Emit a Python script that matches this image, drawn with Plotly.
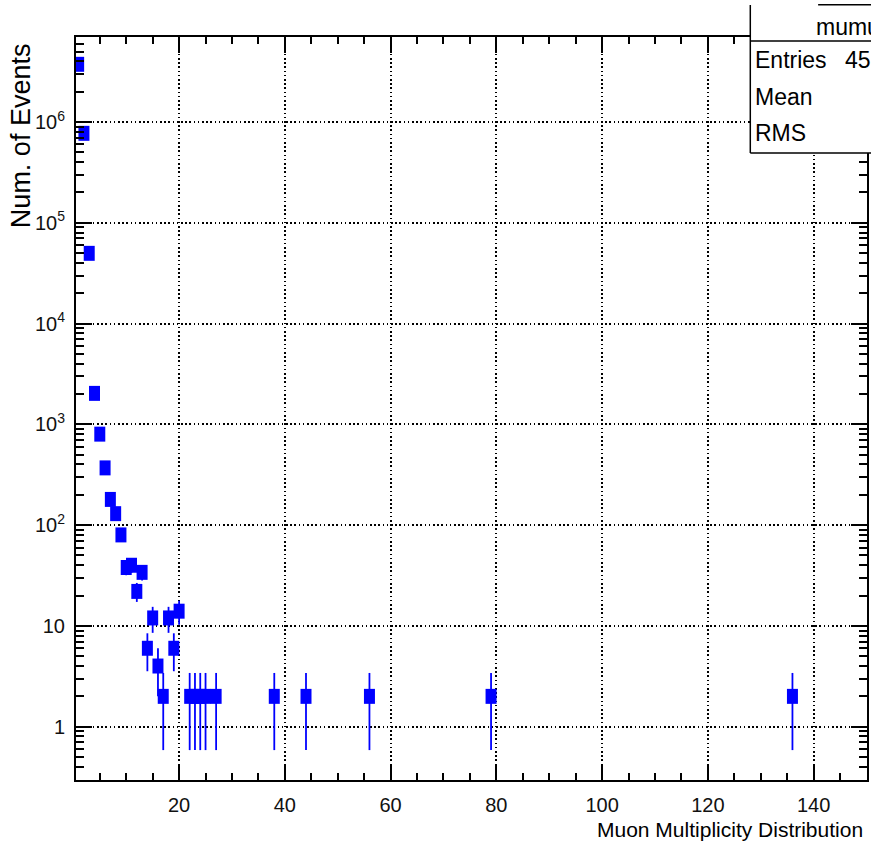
import numpy as np
import plotly.graph_objects as go

# Muon multiplicity histogram (bin centre, content)
multiplicity = [1, 2, 3, 4, 5, 6, 7, 8, 9, 10,
                11, 12, 13, 14, 15, 16, 17, 18, 19, 20,
                22, 23, 24, 25, 27, 38, 44, 56, 79, 136]
events = [3740000, 773000, 49800, 2030, 800, 370, 180, 130, 80, 38,
          40, 22, 34, 6, 12, 4, 2, 12, 6, 14,
          2, 2, 2, 2, 2, 2, 2, 2, 2, 2]
errors = np.sqrt(np.array(events, dtype=float))

y_tick_vals = [1, 10, 100, 1000, 1e4, 1e5, 1e6]
y_tick_text = ["1", "10", "10<sup>2</sup>", "10<sup>3</sup>", "10<sup>4</sup>",
               "10<sup>5</sup>", "10<sup>6</sup>"]
x_tick_vals = [20, 40, 60, 80, 100, 120, 140]

stats_title = "mumu"
stats_rows = [("Entries", "45"), ("Mean", ""), ("RMS", "")]

W, H = 871, 848
L, R, T, B = 76, 2, 37, 68
PW, PH = W - L - R, H - T - B
X_RANGE = [0.5, 150.1]
Y_RANGE = [-0.529, 6.844]


def px(x):
    return (x - L) / PW


def py(y):
    return (H - B - y) / PH


FONT = "Liberation Sans, Arial, Helvetica, sans-serif"
BLUE = "#0000ff"

fig = go.Figure()
fig.add_trace(go.Scatter(
    x=multiplicity, y=events, mode="markers",
    marker=dict(symbol="line-ns", size=10.7, color=BLUE,
                line=dict(color=BLUE, width=11)),
    error_y=dict(type="data", array=errors, visible=True,
                 color=BLUE, thickness=1.8, width=0),
    hoverinfo="skip", showlegend=False,
))
# empty traces that carry the overlay axes drawing the frame ticks
for xa, ya in (("x2", "y2"), ("x3", "y3")):
    fig.add_trace(go.Scatter(x=[], y=[], xaxis=xa, yaxis=ya,
                             hoverinfo="skip", showlegend=False))

minor_x = list(range(5, 151, 5))
minor_y = [m * 10 ** k for k in range(-1, 7) for m in range(2, 10)]

frame = dict(showline=True, linecolor="black", linewidth=2, mirror="ticks",
             zeroline=False, ticks="inside", tickcolor="black")
grid = dict(showgrid=True, gridcolor="black", gridwidth=1.5,
            griddash="1.6px,2.6px")
overlay = dict(showticklabels=False, showgrid=False, **frame)

fig.update_layout(
    xaxis=dict(range=X_RANGE, tickmode="array", tickvals=x_tick_vals,
               ticklen=3, tickwidth=1.8, ticklabelstandoff=6,
               tickfont=dict(family=FONT, size=20, color="#111"),
               **frame, **grid),
    yaxis=dict(type="log", range=Y_RANGE, tickmode="array",
               tickvals=y_tick_vals, ticktext=y_tick_text,
               ticklen=3, tickwidth=1.8, ticklabelstandoff=5,
               tickfont=dict(family=FONT, size=20, color="#111"),
               **frame, **grid),
    # short ticks
    xaxis2=dict(range=X_RANGE, overlaying="x", anchor="y", side="bottom",
                tickmode="array", tickvals=minor_x, ticklen=7, tickwidth=1.5,
                **overlay),
    yaxis2=dict(type="log", range=Y_RANGE, overlaying="y", anchor="x",
                side="left", tickmode="array", tickvals=minor_y, ticklen=8,
                tickwidth=1.5, **overlay),
    # long ticks at the labelled values
    xaxis3=dict(range=X_RANGE, overlaying="x", anchor="y", side="bottom",
                tickmode="array", tickvals=x_tick_vals, ticklen=16,
                tickwidth=1.8, **overlay),
    yaxis3=dict(type="log", range=Y_RANGE, overlaying="y", anchor="x",
                side="left", tickmode="array", tickvals=y_tick_vals,
                ticklen=16, tickwidth=1.8, **overlay),
)

# statistics box in the top-right corner
box_l, box_t, box_mid, box_b = 752, 5, 41, 153
shapes = [
    dict(type="rect", xref="paper", yref="paper", x0=px(box_l), x1=px(W + 10),
         y0=py(box_b), y1=py(box_t), fillcolor="white", line=dict(width=0),
         layer="above"),
    dict(type="line", xref="paper", yref="paper", x0=px(box_l), x1=px(box_l),
         y0=py(box_b), y1=py(box_t)),
    dict(type="line", xref="paper", yref="paper", x0=px(box_l), x1=px(W + 10),
         y0=py(box_b), y1=py(box_b)),
    dict(type="line", xref="paper", yref="paper", x0=px(box_l), x1=px(W + 10),
         y0=py(box_mid), y1=py(box_mid)),
    dict(type="line", xref="paper", yref="paper", x0=px(820), x1=px(W + 10),
         y0=py(4.7), y1=py(4.7)),
]
for s in shapes[1:]:
    s["line"] = dict(color="black", width=1.5)
    s["layer"] = "above"

annotations = [
    dict(text="Num. of Events", x=px(21), y=py(136), textangle=-90,
         xanchor="center", yanchor="middle", font=dict(family=FONT, size=27)),
    dict(text="Muon Multiplicity Distribution", x=px(867), y=py(829),
         xanchor="right", yanchor="middle", font=dict(family=FONT, size=21)),
    dict(text=stats_title, x=px(816), y=py(27), xanchor="left",
         yanchor="middle", font=dict(family=FONT, size=23)),
]
for i, (label, value) in enumerate(stats_rows):
    yc = [60, 97, 133][i]
    annotations.append(dict(text=label, x=px(755), y=py(yc), xanchor="left",
                            yanchor="middle", font=dict(family=FONT, size=23)))
    if value:
        annotations.append(dict(text=value, x=px(845), y=py(yc),
                                xanchor="left", yanchor="middle",
                                font=dict(family=FONT, size=23)))
for a in annotations:
    a.update(xref="paper", yref="paper", showarrow=False)
    a["font"]["color"] = "black"

fig.update_layout(
    width=W, height=H, autosize=False,
    margin=dict(l=L, r=R, t=T, b=B, pad=0),
    paper_bgcolor="white", plot_bgcolor="white",
    shapes=shapes, annotations=annotations,
)

fig.write_html("out.html")
